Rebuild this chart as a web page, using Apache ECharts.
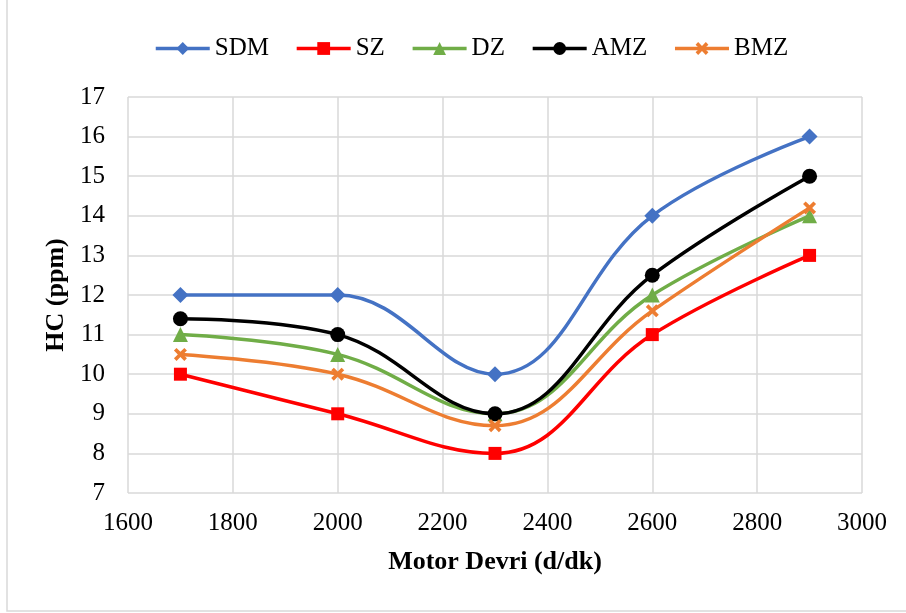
<!DOCTYPE html>
<html>
<head>
<meta charset="utf-8">
<script src="https://cdn.jsdelivr.net/npm/echarts@6/dist/echarts.min.js"></script>
<style>
  html, body { margin: 0; padding: 0; background: #fff; }
  #chart { width: 906px; height: 613px; }
</style>
</head>
<body>
<div id="chart"></div>
<script>
const rpm = [1700, 2000, 2300, 2600, 2900]
const sdm = [12, 12, 10, 14, 16]
const sz = [10, 9, 8, 11, 13]
const dz = [11, 10.5, 9, 12, 14]
const amz = [11.4, 11, 9, 12.5, 15]
const bmz = [10.5, 10, 8.7, 11.6, 14.2]

const font = '"Liberation Serif", "Times New Roman", serif'
const cross = 'path://M2,0 L5,3 L8,0 L10,2 L7,5 L10,8 L8,10 L5,7 L2,10 L0,8 L3,5 L0,2 Z'

function pairs (ys) {
  return rpm.map((x, i) => [x, ys[i]])
}

function line (name, ys, color, symbol, size) {
  return {
    name: name,
    type: 'line',
    smooth: 0.4,
    data: pairs(ys),
    symbol: symbol,
    symbolSize: size,
    lineStyle: { color: color, width: 3.5 },
    itemStyle: { color: color },
    emphasis: { disabled: true }
  }
}

const chart = echarts.init(document.getElementById('chart'))
chart.setOption({
  animation: false,
  textStyle: { fontFamily: font },
  graphic: [{
    type: 'rect',
    shape: { x: 7, y: -5, width: 920, height: 616 },
    style: { fill: 'none', stroke: '#d9d9d9', lineWidth: 1.5 }
  }],
  legend: {
    top: 31,
    left: 149,
    itemWidth: 54,
    itemHeight: 16,
    itemGap: 26,
    lineStyle: { width: 3.5 },
    textStyle: { fontFamily: font, fontSize: 25, color: '#000' },
    data: ['SDM', 'SZ', 'DZ', 'AMZ', 'BMZ']
  },
  grid: { left: 128, right: 44, top: 97, bottom: 120 },
  xAxis: {
    type: 'value',
    min: 1600,
    max: 3000,
    interval: 200,
    name: 'Motor Devri (d/dk)',
    nameLocation: 'middle',
    nameGap: 56,
    nameTextStyle: { fontFamily: font, fontSize: 26, fontWeight: 'bold', color: '#000' },
    axisLine: { show: false },
    axisTick: { show: false },
    axisLabel: { fontFamily: font, fontSize: 25, color: '#000', margin: 18, formatter: v => String(v) },
    splitLine: { lineStyle: { color: '#d9d9d9', width: 1.5 } }
  },
  yAxis: {
    type: 'value',
    min: 7,
    max: 17,
    interval: 1,
    name: 'HC (ppm)',
    nameLocation: 'middle',
    nameGap: 57,
    nameTextStyle: { fontFamily: font, fontSize: 26, fontWeight: 'bold', color: '#000' },
    axisLine: { show: false },
    axisTick: { show: false },
    axisLabel: { fontFamily: font, fontSize: 25, color: '#000', margin: 23 },
    splitLine: { lineStyle: { color: '#d9d9d9', width: 1.5 } }
  },
  series: [
    line('SDM', sdm, '#4472C4', 'diamond', 16),
    line('SZ', sz, '#FF0000', 'rect', 13),
    line('DZ', dz, '#70AD47', 'triangle', 15),
    line('AMZ', amz, '#000000', 'circle', 15),
    line('BMZ', bmz, '#ED7D31', cross, 13)
  ]
})
</script>
</body>
</html>
